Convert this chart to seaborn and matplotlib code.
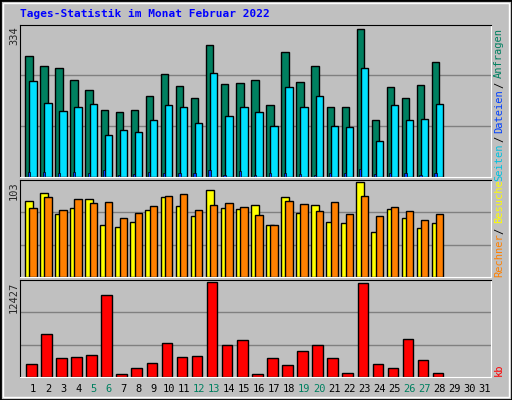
import numpy as np
import matplotlib
matplotlib.use('Agg')
import matplotlib.pyplot as plt
import seaborn as sns
from matplotlib.patches import Rectangle

days = np.arange(1, 32)
n = 28
anfragen = [273, 250, 246, 220, 196, 152, 146, 152, 184, 232, 205, 178, 298, 209,
            212, 220, 162, 282, 214, 250, 157, 159, 334, 128, 203, 178, 207, 260]
dateien = [216, 168, 150, 159, 164, 96, 107, 102, 128, 162, 159, 123, 235, 137,
           159, 146, 116, 203, 157, 182, 116, 112, 246, 82, 162, 128, 130, 166]
seiten = [12, 12, 9, 12, 8, 16, 5, 7, 12, 8, 9, 9, 16, 5,
          14, 5, 9, 8, 7, 5, 9, 9, 18, 7, 9, 9, 5, 8]
besuche = [83, 91, 69, 75, 85, 57, 54, 60, 73, 87, 77, 66, 95, 75,
           74, 78, 57, 87, 70, 78, 60, 59, 103, 49, 74, 64, 53, 59]
rechner = [75, 87, 73, 85, 81, 82, 64, 70, 77, 88, 90, 73, 78, 81,
           76, 68, 57, 83, 79, 72, 82, 69, 88, 66, 76, 72, 62, 69]
kb = [1678, 5623, 2494, 2630, 2902, 10793, 453, 1134, 1814, 4399, 2630, 2766, 12427, 4263,
      4807, 453, 2494, 1542, 3447, 4263, 2494, 590, 12290, 1678, 1134, 4943, 2222, 590]
weekend = [5, 6, 12, 13, 19, 20, 26, 27]

sns.set_style('white')
plt.rcParams['font.family'] = ['DejaVu Sans Mono', 'DejaVu Sans']
BG = '#C0C0C0'

fig = plt.figure(figsize=(5.12, 4), dpi=100, facecolor=BG)
W, H = 512, 400


def pax(l, t, r, b):
    return fig.add_axes([l / W, 1 - b / H, (r - l) / W, (b - t) / H])


# bevel frame
fig.patches.append(Rectangle((0, 0), 1, 1, transform=fig.transFigure, fill=False,
                             edgecolor='black', lw=2))
fig.patches.append(Rectangle((3 / W, 3 / H), 1 - 6 / W, 1 - 6 / H, transform=fig.transFigure,
                             fill=False, edgecolor='white', lw=1))

x = np.arange(1, n + 1)
panels = [
    (24.7, 177, max(anfragen)),
    (179.5, 277, max(besuche)),
    (279.5, 377, max(kb)),
]
axes = []
for t, b, top in panels:
    ax = pax(20, t, 491, b)
    ax.set_facecolor(BG)
    ax.set_xlim(0.14, 31.4)
    ylim = top * 1.03
    ax.set_ylim(0, ylim)
    for g in (ylim / 3, 2 * ylim / 3):
        ax.axhline(g, color='#808080', lw=1, zorder=0)
    ax.set_xticks([])
    ax.set_yticks([])
    for s in ('left', 'top'):
        ax.spines[s].set_color('black')
    for s in ('right', 'bottom'):
        ax.spines[s].set_color('white')
    axes.append(ax)

ek = dict(edgecolor='black', linewidth=1)
a1, a2, a3 = axes
a1.bar(x - 0.27, anfragen, width=0.49, color='#008060', **ek)
a1.bar(x, dateien, width=0.49, color='#00E0FF', **ek)
a1.bar(x - 0.28, seiten, width=0.15, color='#0040FF', edgecolor='black', linewidth=0.5)
a2.bar(x - 0.27, besuche, width=0.53, color='#FFFF00', **ek)
a2.bar(x, rechner, width=0.49, color='#FF8000', **ek)
a3.bar(x - 0.11, kb, width=0.7, color='#FF0000', **ek)

# left max labels
for (t, b, top), lab in zip(panels, ['334', '103', '12427']):
    fig.text(14 / W, 1 - (t + 2) / H, lab, rotation=90, ha='center', va='top', fontsize=7.5)

# day labels
for d in days:
    xpix = 20 + (d - 0.14) / (31.4 - 0.14) * 471
    fig.text(xpix / W, 1 - 389 / H, str(d), ha='center', va='center', fontsize=7.5,
             color='#008060' if d in weekend else 'black')

fig.text(20 / W, 1 - 14 / H, 'Tages-Statistik im Monat Februar 2022', color='#0000FF',
         fontsize=8, fontweight='bold', va='center', ha='left')

# right side labels (bottom y in pixels)
pieces = [
    ('Seiten', '#00C0E0', 181), ('/', 'black', 142), ('Dateien', '#0040FF', 133),
    ('/', 'black', 88), ('Anfragen', '#008060', 78),
    ('Rechner', '#FF8000', 277), ('/', 'black', 234), ('Besuche', '#FFFF00', 223),
    ('kb', '#FF0000', 376),
]
for txt, col, yb in pieces:
    fig.text(499 / W, 1 - yb / H, txt, rotation=90, ha='center', va='bottom',
             fontsize=7.5, color=col)

fig.savefig('out.png', dpi=100, facecolor=BG)
